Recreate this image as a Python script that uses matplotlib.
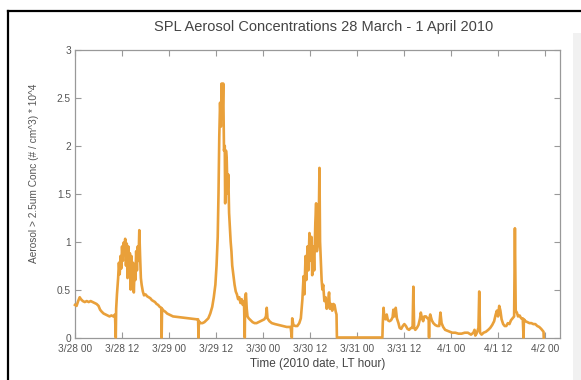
import matplotlib
matplotlib.use("Agg")
import matplotlib.pyplot as plt
from matplotlib.lines import Line2D
from matplotlib.patches import Rectangle

plt.rcParams['font.family'] = ['Liberation Sans', 'DejaVu Sans']

# hours after 3/28 00 (local time) and concentration (x 10^4)
hours = [0.0, 0.4, 0.8, 1.2, 1.5, 2.0, 2.5, 3.0, 3.5, 4.0, 4.5, 5.0, 5.5, 6.0, 6.4, 6.8,
         7.3, 7.8, 8.3, 8.8, 9.3, 9.8, 10.2, 10.4, 10.5, 10.7,
         11.0, 11.2, 11.4, 11.6, 11.8, 12.0, 12.2, 12.4, 12.6, 12.8, 13.0, 13.2, 13.4,
         13.6, 13.8, 14.0, 14.2, 14.4, 14.6, 14.8, 15.0, 15.2, 15.4, 15.6, 15.8, 16.0,
         16.2, 16.4, 16.6, 16.8, 17.0, 17.3, 17.6, 18.0, 18.4, 18.8, 19.2, 19.6, 20.0,
         20.4, 20.8, 21.2, 21.6, 22.0, 22.1, 22.2, 22.6, 23.0, 23.5, 24.0, 24.5, 25.0,
         26.0, 27.0, 28.0, 29.0, 30.0, 31.0, 31.4, 31.5, 31.6, 32.0, 32.5, 33.0, 33.5,
         34.0, 34.5, 35.0, 35.4, 35.8, 36.1, 36.4, 36.6, 36.8, 37.0, 37.2, 37.4, 37.6,
         37.8, 38.0, 38.2, 38.3, 38.5, 38.7, 38.9, 39.1, 39.3, 39.5, 39.7, 39.9, 40.1,
         40.4, 40.7, 41.0, 41.3, 41.6, 41.9, 42.2, 42.5, 42.8, 43.1, 43.3, 43.4, 43.6,
         43.8, 44.0, 44.3, 44.8, 45.3, 45.8, 46.3, 46.8, 47.3, 47.8, 48.3, 48.7, 48.9,
         49.1, 49.6, 50.2, 51.0, 52.0, 53.0, 54.0, 55.0, 55.3, 55.4, 55.7, 56.2, 56.7,
         57.2, 57.6, 58.0, 58.3, 58.5, 58.8, 59.0, 59.3, 59.5, 59.8, 60.0, 60.3, 60.5,
         60.8, 61.0, 61.3, 61.5, 61.7, 62.0, 62.2, 62.35, 62.5, 62.7, 62.9, 63.1, 63.3,
         63.6, 63.9, 64.2, 64.5, 64.8, 65.0, 65.3, 65.6, 65.9, 66.2, 66.5, 66.7, 66.8,
         78.4, 78.5, 78.7, 78.9, 79.2, 79.5, 79.8, 80.2, 80.6, 81.0, 81.2, 81.5, 81.8,
         82.1, 82.5, 82.8, 83.2, 83.6, 84.0, 84.4, 84.8, 85.2, 85.7, 86.1, 86.3, 86.5,
         86.8, 87.2, 87.6, 88.0, 88.2, 88.5, 88.8, 89.1, 89.5, 89.9, 90.2, 90.3, 90.4,
         90.6, 91.0, 91.4, 91.9, 92.4, 92.9, 93.2, 93.5, 93.9, 94.4, 95.0, 95.6, 96.2,
         97.0, 97.8, 98.6, 99.4, 100.2, 101.0, 101.6, 101.9, 102.1, 102.4, 102.9, 103.1,
         103.3, 103.7, 104.2, 104.8, 105.4, 105.9, 106.4, 106.9, 107.3, 107.6, 107.9,
         108.2, 108.5, 108.8, 109.2, 109.6, 110.0, 110.4, 110.8, 111.2, 111.6, 112.0,
         112.2, 112.4, 112.7, 113.0, 113.4, 113.8, 114.2, 114.4, 114.5, 114.9, 115.4,
         115.9, 116.4, 116.9, 117.4, 117.9, 118.4, 118.9, 119.3, 119.5, 119.55]
conc = [0.34, 0.33, 0.38, 0.42, 0.40, 0.38, 0.37, 0.38, 0.37, 0.38, 0.37, 0.36, 0.35, 0.33,
        0.29, 0.27, 0.25, 0.24, 0.23, 0.22, 0.23, 0.22, 0.24, 0.0, 0.30, 0.45,
        0.62, 0.78, 0.66, 0.85, 0.72, 0.95, 0.80, 0.99, 0.88, 1.03, 0.75, 0.98, 0.62,
        0.95, 0.70, 0.88, 0.50, 0.85, 0.55, 0.78, 0.47, 0.72, 0.60, 0.90, 0.70, 0.95,
        0.80, 1.12, 0.85, 0.62, 0.55, 0.48, 0.44, 0.45, 0.43, 0.42, 0.41, 0.39, 0.38,
        0.37, 0.35, 0.34, 0.32, 0.31, 0.0, 0.30, 0.28, 0.27, 0.25, 0.24, 0.23, 0.22,
        0.215, 0.21, 0.205, 0.20, 0.195, 0.19, 0.19, 0.0, 0.17, 0.15, 0.15, 0.16, 0.18,
        0.20, 0.25, 0.32, 0.42, 0.55, 0.75, 1.05, 1.5, 2.1, 2.45, 2.2, 2.65, 2.3,
        2.65, 1.95, 2.0, 1.4, 1.95, 1.85, 1.5, 1.7, 1.3, 1.15, 1.0, 0.9, 0.75,
        0.65, 0.55, 0.48, 0.45, 0.40, 0.42, 0.36, 0.40, 0.34, 0.38, 0.0, 0.42, 0.46,
        0.30, 0.22, 0.20, 0.18, 0.16, 0.15, 0.15, 0.16, 0.17, 0.18, 0.19, 0.22, 0.31,
        0.20, 0.17, 0.15, 0.14, 0.13, 0.12, 0.11, 0.11, 0.0, 0.20, 0.13, 0.12, 0.12,
        0.15, 0.20, 0.40, 0.64, 0.45, 0.85, 0.60, 0.95, 0.70, 1.09, 0.80, 1.05, 0.65,
        0.95, 0.70, 1.2, 1.4, 0.9, 1.0, 1.3, 1.77, 1.0, 0.8, 0.6, 0.5, 0.55,
        0.38, 0.42, 0.30, 0.36, 0.47, 0.30, 0.35, 0.28, 0.35, 0.34, 0.27, 0.24, 0.0,
        0.0, 0.15, 0.31, 0.20, 0.19, 0.24, 0.18, 0.17, 0.18, 0.21, 0.29, 0.22, 0.31,
        0.20, 0.15, 0.10, 0.09, 0.12, 0.14, 0.12, 0.09, 0.08, 0.10, 0.10, 0.53, 0.10,
        0.08, 0.10, 0.13, 0.20, 0.26, 0.20, 0.17, 0.22, 0.22, 0.20, 0.19, 0.0, 0.20,
        0.24, 0.18, 0.15, 0.13, 0.12, 0.12, 0.26, 0.15, 0.11, 0.08, 0.07, 0.06, 0.05,
        0.05, 0.04, 0.04, 0.05, 0.05, 0.03, 0.05, 0.08, 0.02, 0.04, 0.10, 0.48,
        0.05, 0.03, 0.05, 0.06, 0.08, 0.10, 0.13, 0.17, 0.24, 0.28, 0.22,
        0.33, 0.28, 0.19, 0.14, 0.12, 0.12, 0.15, 0.14, 0.18, 0.20, 0.22,
        1.14, 0.28, 0.26, 0.22, 0.23, 0.20, 0.20, 0.0, 0.19, 0.17, 0.16,
        0.15, 0.15, 0.14, 0.14, 0.12, 0.11, 0.09, 0.07, 0.06, 0.0]

tick_hours = [0, 12, 24, 36, 48, 60, 72, 84, 96, 108, 120]
tick_labels = ['3/28 00', '3/28 12', '3/29 00', '3/29 12', '3/30 00', '3/30 12',
               '3/31 00', '3/31 12', '4/1 00', '4/1 12', '4/2 00']
y_ticks = [0, 0.5, 1, 1.5, 2, 2.5, 3]
y_labels = ['0', '0.5', '1', '1.5', '2', '2.5', '3']

W, H = 581, 380
fig = plt.figure(figsize=(W / 100, H / 100), dpi=100)
fig.patch.set_facecolor('white')

# screenshot frame
fig.add_artist(Rectangle((573 / W, 0), 8 / W, 1 - 33 / H, transform=fig.transFigure,
                         facecolor='#f1f1f1', edgecolor='none'))
fig.add_artist(Line2D([8 / W, 8 / W], [0, 1 - 11 / H], transform=fig.transFigure,
                      color='black', lw=1.6))
fig.add_artist(Line2D([8 / W, 1], [1 - 11 / H, 1 - 11 / H], transform=fig.transFigure,
                      color='black', lw=1.6))

ax = fig.add_axes([75 / W, 1 - 337.5 / H, 485 / W, 287.5 / H])
ax.plot(hours, conc, color='#E9A03A', lw=1.9, clip_on=False, zorder=3)

ax.set_xlim(0, 123.7)
ax.set_ylim(0, 3)
ax.set_xticks(tick_hours)
ax.set_xticklabels(tick_labels)
ax.set_yticks(y_ticks)
ax.set_yticklabels(y_labels)
ax.tick_params(direction='in', length=4, width=0.8, color='#999999', top=True, right=True,
               labelsize=7.3, labelcolor='#555555', pad=3)
ax.tick_params(axis='x', pad=4.5)
for s in ax.spines.values():
    s.set_color('#999999')
    s.set_linewidth(0.9)

ax.set_xlabel('Time (2010 date, LT hour)', fontsize=8.5, color='#444444', labelpad=3)
ax.set_ylabel('Aerosol > 2.5um Conc (# / cm^3) * 10^4', fontsize=7.3, color='#555555')
ax.yaxis.set_label_coords(-0.074, 0.57)

fig.text(324 / W, 1 - 27 / H, 'SPL Aerosol Concentrations 28 March - 1 April 2010',
         ha='center', va='center', fontsize=10.5, color='#444444')

fig.savefig('out.png', dpi=100)
